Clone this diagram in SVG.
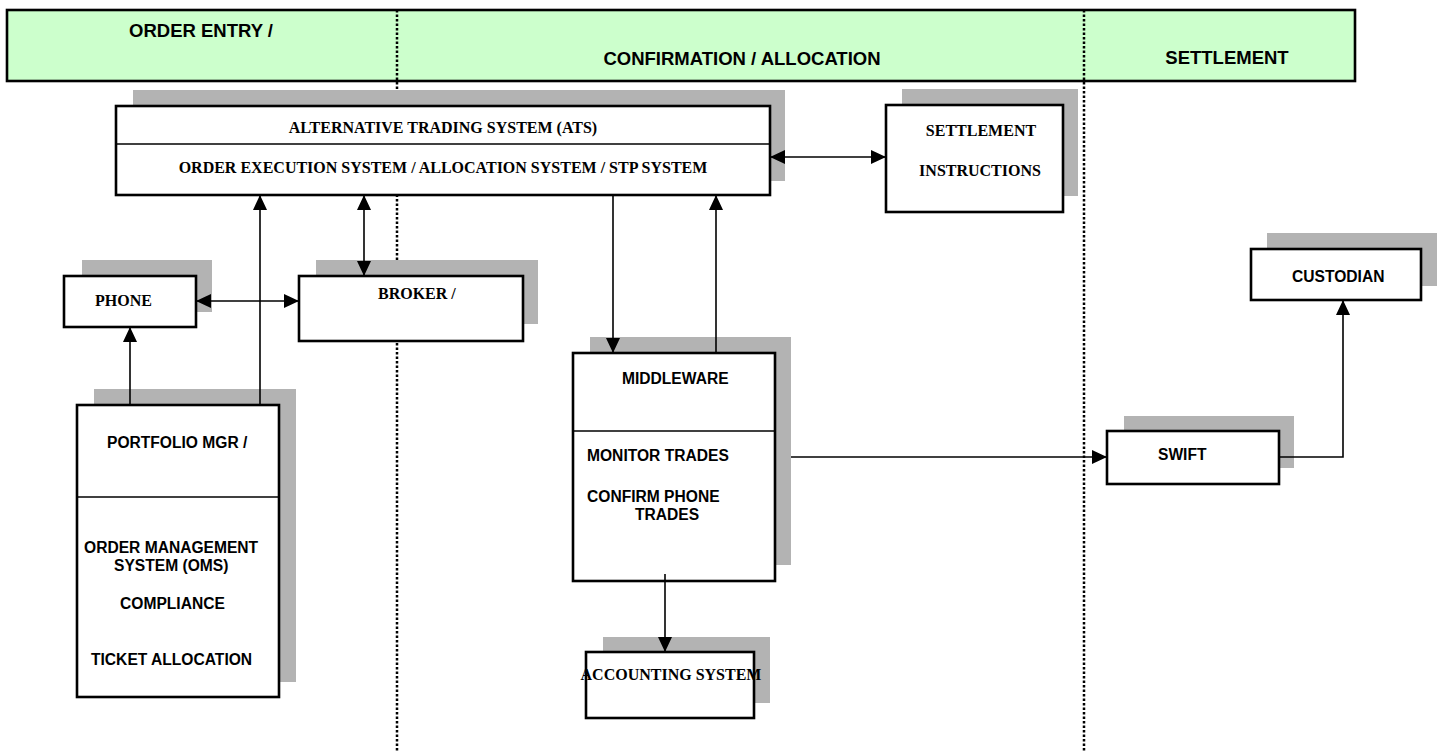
<svg xmlns="http://www.w3.org/2000/svg" width="1437" height="751" viewBox="0 0 1437 751">
<defs>
<marker id="ah" markerUnits="userSpaceOnUse" markerWidth="15" markerHeight="14" refX="15" refY="7" orient="auto-start-reverse">
<path d="M0,0 L15,7 L0,14 z" fill="#000"/>
</marker>
<style>
.box{fill:#fff;stroke:#000;stroke-width:2.6}
.sh{fill:#b3b3b3}
.div{stroke:#000;stroke-width:1.6}
.c{fill:none;stroke:#000;stroke-width:1.6}
.dot{stroke:#000;stroke-width:2.5;stroke-dasharray:2.5 2}
.hd{font-family:"Liberation Sans",Arial,sans-serif;font-weight:bold;font-size:18.5px;fill:#000}
.ss{font-family:"Liberation Sans",Arial,sans-serif;font-weight:bold;font-size:15.6px;fill:#000}
.sf{font-family:"Liberation Serif","Times New Roman",serif;font-weight:bold;font-size:16px;fill:#000}
</style>
</defs>
<rect id="header" x="7" y="10" width="1348" height="71" fill="#ccffcc" stroke="#000" stroke-width="2.6"/>
<g id="lanes">
<line class="dot" x1="397" y1="10" x2="397" y2="751"/>
<line class="dot" x1="1084" y1="10" x2="1084" y2="751"/>
</g>
<g id="header-labels">
<text class="hd" x="201" y="37" text-anchor="middle">ORDER ENTRY /</text>
<text class="hd" x="742" y="65" text-anchor="middle">CONFIRMATION / ALLOCATION</text>
<text class="hd" x="1227" y="64" text-anchor="middle">SETTLEMENT</text>
</g>
<g id="ats">
<rect class="sh" x="133" y="90" width="652" height="91"/>
<rect class="box" x="116" y="106" width="654" height="89"/>
<line class="div" x1="116" y1="144" x2="770" y2="144"/>
<text class="sf" x="443" y="133" text-anchor="middle">ALTERNATIVE TRADING SYSTEM (ATS)</text>
<text class="sf" x="443" y="173" text-anchor="middle">ORDER EXECUTION SYSTEM / ALLOCATION SYSTEM / STP SYSTEM</text>
</g>
<g id="settlement-instructions">
<rect class="sh" x="902" y="89" width="176" height="107"/>
<rect class="box" x="886" y="105" width="177" height="107"/>
<text class="sf" x="981" y="136" text-anchor="middle">SETTLEMENT</text>
<text class="sf" x="980" y="176" text-anchor="middle">INSTRUCTIONS</text>
</g>
<g id="phone">
<rect class="sh" x="82" y="260" width="130" height="52"/>
<rect class="box" x="64" y="276" width="132" height="51"/>
<text class="sf" x="95" y="306">PHONE</text>
</g>
<g id="broker">
<rect class="sh" x="316" y="260" width="222" height="64"/>
<rect class="box" x="299" y="276" width="224" height="65"/>
<text class="sf" x="378" y="299">BROKER /</text>
</g>
<g id="portfolio">
<rect class="sh" x="94" y="389" width="202" height="293"/>
<rect class="box" x="77" y="405" width="202" height="292"/>
<line class="div" x1="77" y1="497" x2="279" y2="497"/>
<text class="ss" x="107" y="448">PORTFOLIO MGR /</text>
<text class="ss" x="84" y="553">ORDER MANAGEMENT</text>
<text class="ss" x="114" y="571">SYSTEM (OMS)</text>
<text class="ss" x="120" y="609">COMPLIANCE</text>
<text class="ss" x="91" y="665">TICKET ALLOCATION</text>
</g>
<g id="middleware">
<rect class="sh" x="590" y="337" width="201" height="228"/>
<rect class="box" x="573" y="353" width="202" height="228"/>
<line class="div" x1="573" y1="431" x2="775" y2="431"/>
<text class="ss" x="622" y="384">MIDDLEWARE</text>
<text class="ss" x="587" y="461">MONITOR TRADES</text>
<text class="ss" x="587" y="502">CONFIRM PHONE</text>
<text class="ss" x="635" y="520">TRADES</text>
</g>
<g id="accounting">
<rect class="sh" x="603" y="637" width="167" height="66"/>
<rect class="box" x="586" y="652" width="168" height="66"/>
<text class="sf" x="671" y="680" text-anchor="middle">ACCOUNTING SYSTEM</text>
</g>
<g id="custodian">
<rect class="sh" x="1267" y="233" width="170" height="53"/>
<rect class="box" x="1251" y="249" width="170" height="51"/>
<text class="ss" x="1292" y="282">CUSTODIAN</text>
</g>
<g id="swift">
<rect class="sh" x="1124" y="416" width="170" height="52"/>
<rect class="box" x="1107" y="431" width="172" height="53"/>
<text class="ss" x="1158" y="460">SWIFT</text>
</g>
<g id="connectors">
<line class="c" x1="770" y1="157" x2="886" y2="157" marker-start="url(#ah)" marker-end="url(#ah)"/>
<line class="c" x1="196" y1="301" x2="299" y2="301" marker-start="url(#ah)" marker-end="url(#ah)"/>
<line class="c" x1="364" y1="195" x2="364" y2="276" marker-start="url(#ah)" marker-end="url(#ah)"/>
<line class="c" x1="260" y1="405" x2="260" y2="195" marker-end="url(#ah)"/>
<line class="c" x1="130" y1="405" x2="130" y2="327" marker-end="url(#ah)"/>
<line class="c" x1="613" y1="195" x2="613" y2="353" marker-end="url(#ah)"/>
<line class="c" x1="716" y1="353" x2="716" y2="195" marker-end="url(#ah)"/>
<line class="c" x1="665" y1="574" x2="665" y2="652" marker-end="url(#ah)"/>
<line class="c" x1="791" y1="457" x2="1107" y2="457" marker-end="url(#ah)"/>
<polyline class="c" points="1279,457 1343,457 1343,300" marker-end="url(#ah)"/>
</g>
</svg>
